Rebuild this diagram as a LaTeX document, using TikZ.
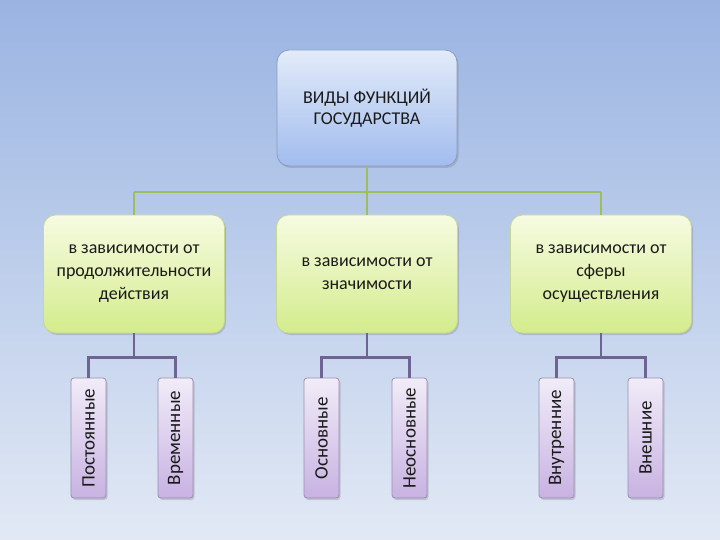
\documentclass[tikz,border=0pt]{standalone}
\usepackage{fontspec}
\setmainfont{Carlito}
\usetikzlibrary{shadows}
\definecolor{bgtop}{HTML}{9AB4E2}
\definecolor{bgbot}{HTML}{E2E9F5}
\definecolor{bluetop}{HTML}{E2EBF9}
\definecolor{bluebot}{HTML}{A2BCEE}
\definecolor{blueline}{HTML}{8A9CC0}
\definecolor{greentop}{HTML}{F6FBE2}
\definecolor{greenbot}{HTML}{D4EC8C}
\definecolor{greenline}{HTML}{C4D890}
\definecolor{purptop}{HTML}{F1ECF8}
\definecolor{purpbot}{HTML}{C8B2E2}
\definecolor{purpline}{HTML}{9A8EB0}
\definecolor{gconn}{HTML}{9DBE5A}
\definecolor{pconn}{HTML}{6E6492}
\definecolor{txt}{HTML}{1A1A1A}
\tikzset{
  boxshadow/.style={drop shadow={shadow xshift=1.5pt,shadow yshift=-2pt,opacity=0.25,fill=black!60}},
  topbox/.style={rounded corners=12pt, draw=blueline, line width=0.8pt, top color=bluetop, bottom color=bluebot,
    minimum width=180pt, minimum height=116pt, align=center, text=txt, font=\fontsize{18}{21}\selectfont, boxshadow},
  midbox/.style={rounded corners=12pt, draw=greenline, line width=0.8pt, top color=greentop, bottom color=greenbot,
    minimum width=181pt, minimum height=118pt, align=center, text=txt, font=\fontsize{18}{23}\selectfont, boxshadow},
  leafbox/.style={rounded corners=3pt, draw=purpline, line width=0.8pt, top color=purptop, bottom color=purpbot,
    minimum width=120pt, minimum height=35pt, align=center, rotate=90, text=txt, font=\fontsize{19}{20}\selectfont, boxshadow},
  gline/.style={draw=gconn, line width=2pt},
  pline/.style={draw=pconn, line width=2.2pt},
}
\begin{document}
\begin{tikzpicture}[x=1pt,y=-1pt]
\shade[top color=bgtop, bottom color=bgbot] (0,0) rectangle (720,540);
\useasboundingbox (0,0) rectangle (720,540);

\coordinate (tj) at (367,192);
\coordinate (lj) at (134,192);
\coordinate (rj) at (601,192);

\node[topbox] (top) at (367,108) {ВИДЫ ФУНКЦИЙ\\ГОСУДАРСТВА};
\node[midbox] (m1) at (134,274) {в зависимости от\\продолжительности\\действия};
\node[midbox] (m2) at (367,274) {в зависимости от\\значимости};
\node[midbox] (m3) at (601,274) {в зависимости от\\сферы\\осуществления};

\node[leafbox] (l1) at (88.5,438) {Постоянные};
\node[leafbox] (l2) at (175.5,438) {Временные};
\node[leafbox] (l3) at (321.5,438) {Основные};
\node[leafbox] (l4) at (409.5,438) {Неосновные};
\node[leafbox] (l5) at (556.5,438) {Внутренние};
\node[leafbox] (l6) at (645.5,438) {Внешние};

\draw[gline] (top.south) -- (tj);
\draw[gline] (lj) -- (rj);
\draw[gline] (lj) -- (m1.north);
\draw[gline] (tj) -- (m2.north);
\draw[gline] (rj) -- (m3.north);

\draw[pline] (m1.south) -- ++(0,24) coordinate (p1);
\draw[pline] (l1.east) |- (p1) -| (l2.east);
\draw[pline] (m2.south) -- ++(0,24) coordinate (p2);
\draw[pline] (l3.east) |- (p2) -| (l4.east);
\draw[pline] (m3.south) -- ++(0,24) coordinate (p3);
\draw[pline] (l5.east) |- (p3) -| (l6.east);
\end{tikzpicture}
\end{document}
